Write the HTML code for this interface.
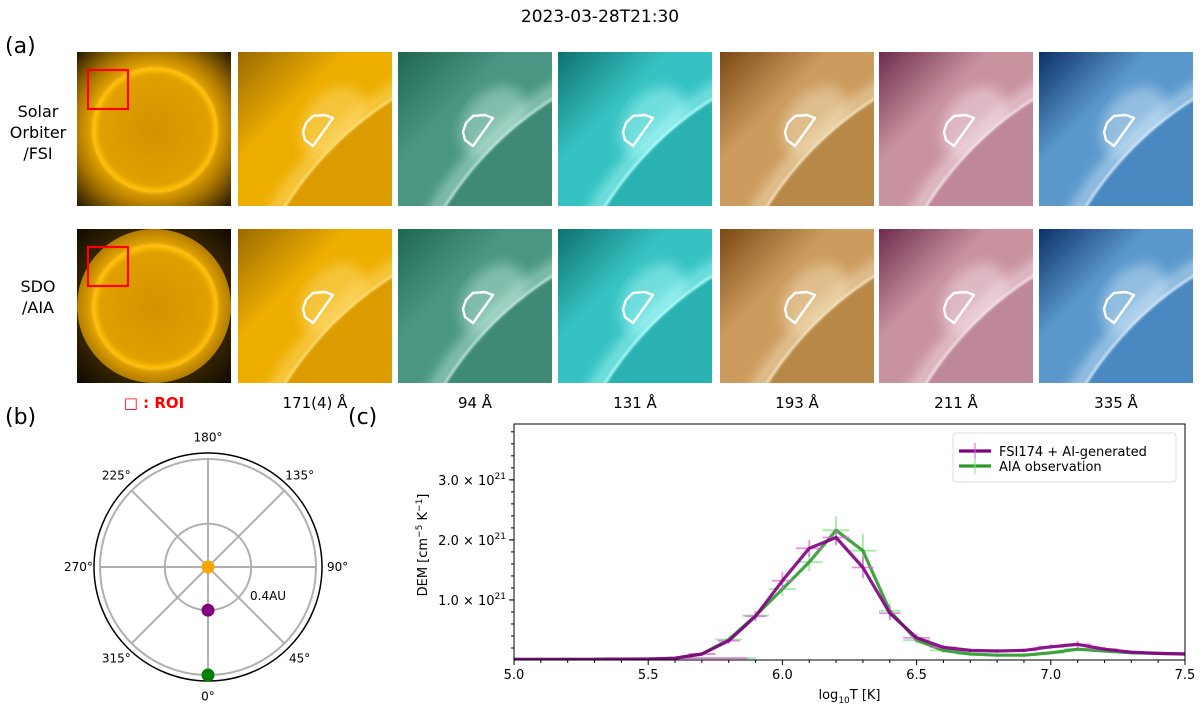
<!DOCTYPE html>
<html><head><meta charset="utf-8">
<style>
html,body{margin:0;padding:0;background:#fff;width:1200px;height:707px;overflow:hidden;font-family:"Liberation Sans","DejaVu Sans",sans-serif;}
svg{display:block;}
svg text{font-family:"DejaVu Sans","Liberation Sans",sans-serif;}
</style></head>
<body>
<svg id="fig" width="1200" height="707" viewBox="0 0 1200 707" xmlns="http://www.w3.org/2000/svg">
<defs>
<filter id="blur3"><feGaussianBlur stdDeviation="3"/></filter>
<filter id="blur6"><feGaussianBlur stdDeviation="6"/></filter>
<filter id="blur1"><feGaussianBlur stdDeviation="1.2"/></filter>
<radialGradient id="sunDisk" cx="0.5" cy="0.5" r="0.5">
<stop offset="0" stop-color="#d49200"/><stop offset="0.9" stop-color="#e0a000"/><stop offset="1" stop-color="#ffc000"/>
</radialGradient>
<radialGradient id="sunCorona" cx="0.5" cy="0.5" r="0.72">
<stop offset="0.55" stop-color="#e8a800"/><stop offset="0.72" stop-color="#a87400"/><stop offset="1" stop-color="#1a1000"/>
</radialGradient>
</defs>
<text x="600" y="22" text-anchor="middle" font-size="17" fill="#000">2023-03-28T21:30</text>
<text x="5" y="53" font-size="22" fill="#000">(a)</text>
<text x="5" y="424" font-size="22" fill="#000">(b)</text>
<text x="348" y="424" font-size="22" fill="#000">(c)</text>
<g font-size="16" text-anchor="middle" fill="#000">
<text x="38" y="117">Solar</text><text x="38" y="138">Orbiter</text><text x="38" y="159">/FSI</text></g>
<g font-size="16" text-anchor="middle" fill="#000">
<text x="38" y="292">SDO</text><text x="38" y="313">/AIA</text></g>
<g id="images"></g>
<g id="collabels" font-size="15" text-anchor="middle" fill="#000"></g>
<g id="polar"></g>
<g id="dem"></g>
</svg>
<script>
var NS="http://www.w3.org/2000/svg";
function mk(tag,attrs,parent){var e=document.createElementNS(NS,tag);for(var k in attrs)e.setAttribute(k,attrs[k]);parent.appendChild(e);return e;}

// ---------- solar image panels ----------
var colX=[77,238,398,558,720,879,1039];
var rowY=[52,229];
var PW=154;
var channels=["171","94","131","193","211","335"];
var cDark=["#9a6a00","#1f6652","#0f7070","#7a4812","#6e2c4c","#0c3068"];
var cBright=["#ffe080","#c4ece0","#b8ffff","#f6e6c4","#f8e8ee","#d8ecfa"];
var cMid=["#eeae00","#4a9682","#36c2c2","#cc9c5e","#c9929f","#5a98cc"];
var cDisk=["#dc9c00","#3f8a76","#2ab2b2","#b88848","#be8898","#4a88c2"];
var imgs=document.getElementById("images");
var defs=document.querySelector("defs");
for(var r=0;r<2;r++){
  var x0=colX[0],y0=rowY[r];
  var g=mk("g",{},imgs);
  
  
  var cp=mk("clipPath",{id:"cpf"+r},defs);mk("rect",{x:x0,y:y0,width:PW,height:PW},cp);
  var gg=mk("g",{"clip-path":"url(#cpf"+r+")"},g);
  mk("rect",{x:x0,y:y0,width:PW,height:PW,fill:"url(#sunCorona)"},gg);
  if(r==1){mk("path",{d:"M"+x0+","+y0+"h"+PW+"v"+PW+"h-"+PW+"z M"+(x0+77)+","+(y0+0)+" a77,77 0 1,0 0.1,0z","fill":"#0a0600","fill-rule":"evenodd",opacity:"0.75"},gg);}
  mk("circle",{cx:x0+78,cy:y0+78,r:63,fill:"#ffc020",filter:"url(#blur1)"},gg);
  mk("circle",{cx:x0+78,cy:y0+78,r:61,fill:"url(#sunDisk)"},gg);
  var roi=mk("rect",{x:x0+11,y:y0+18,width:40,height:39,fill:"none",stroke:"#ff0000","stroke-width":"2.2"},g);
  
  
  for(var c=0;c<6;c++){
    var X=colX[c+1],Y=rowY[r];
    var pg=mk("g",{},imgs);
    
    
    var id="cp"+r+"_"+c;
    var cp2=mk("clipPath",{id:id},defs);mk("rect",{x:X,y:Y,width:PW,height:PW},cp2);
    var lg=mk("linearGradient",{id:"lg"+id,x1:"0",y1:"0",x2:"0.8",y2:"0.8"},defs);
    mk("stop",{offset:"0","stop-color":cDark[c]},lg);
    mk("stop",{offset:"0.45","stop-color":cMid[c]},lg);
    mk("stop",{offset:"1","stop-color":cMid[c]},lg);
    var ig=mk("g",{"clip-path":"url(#"+id+")"},pg);
    mk("rect",{x:X,y:Y,width:PW,height:PW,fill:"url(#lg"+id+")"},ig);
    mk("circle",{cx:X+335,cy:Y+335,r:346,fill:"none",stroke:cBright[c],"stroke-width":"12",opacity:"0.6",filter:"url(#blur6)"},ig);
    mk("ellipse",{cx:X+95,cy:Y+70,rx:28,ry:40,fill:cBright[c],opacity:"0.45",filter:"url(#blur6)",transform:"rotate(40 "+(X+95)+" "+(Y+70)+")"},ig);
    mk("circle",{cx:X+335,cy:Y+335,r:339,fill:cDisk[c]},ig);
    mk("circle",{cx:X+335,cy:Y+335,r:340,fill:"none",stroke:cBright[c],"stroke-width":"2.5",opacity:"0.95",filter:"url(#blur1)"},ig);
    var rp=[[75,64],[87,63],[95,66],[75,94],[67,88],[65,80],[68,71]];
    var d="M"+rp.map(function(p){return (X+p[0])+","+(Y+p[1]);}).join(" L")+"Z";
    var poly=mk("path",{d:d,fill:"none",stroke:"#fff","stroke-width":"2.4","stroke-linejoin":"round"},pg);
    
    
  }
}
var cl=document.getElementById("collabels");
var labs=["171(4) Å","94 Å","131 Å","193 Å","211 Å","335 Å"];
var roiLab=mk("text",{x:colX[0]+77,y:408,fill:"#ff0000","font-weight":"bold"},cl);
roiLab.textContent="□ : ROI";


for(var i=0;i<6;i++){var t=mk("text",{x:colX[i+1]+77,y:408},cl);t.textContent=labs[i];

}

// ---------- polar panel ----------
var polarNames=["sun","solar-orbiter","earth-sdo"];
var polarR=[0,0.4,1.0];
var polarTheta=[0,0,0];
var polarColors=["#ffa500","#800080","#008000"];
var pg=document.getElementById("polar");
var PCX=208,PCY=567,PR=108;
function pxy(rv,deg){var a=deg*Math.PI/180;return [PCX+rv*PR*Math.sin(a),PCY+rv*PR*Math.cos(a)];}
var pgrid=mk("g",{stroke:"#b0b0b0","stroke-width":"2",fill:"none"},pg);


[0.4,1.0].forEach(function(rv){mk("circle",{cx:PCX,cy:PCY,r:rv*PR},pgrid);});
for(var a=0;a<360;a+=45){var p=pxy(1.0,a);mk("line",{x1:PCX,y1:PCY,x2:p[0],y2:p[1]},pgrid);}
var ob=mk("circle",{cx:PCX,cy:PCY,r:114,fill:"none",stroke:"#000","stroke-width":"1.5"},pg);


for(var a=0;a<360;a+=45){var p=pxy(1.2,a);var t=mk("text",{x:p[0],y:p[1]+4,"font-size":"12","text-anchor":"middle",fill:"#000"},pg);t.textContent=a+"°";

}
var rl=mk("text",{x:250,y:600,"font-size":"12",fill:"#000"},pg);rl.textContent="0.4AU";


for(var i=0;i<3;i++){var p=pxy(polarR[i],polarTheta[i]);var c=mk("circle",{cx:p[0],cy:p[1],r:6.5,fill:polarColors[i]},pg);

}

// ---------- DEM chart ----------
var logT=[5.0,5.1,5.2,5.3,5.4,5.5,5.6,5.7,5.8,5.9,6.0,6.1,6.2,6.3,6.4,6.5,6.6,6.7,6.8,6.9,7.0,7.1,7.2,7.3,7.4,7.5];
var demFSI=[0.01,0.01,0.01,0.01,0.01,0.015,0.03,0.1,0.32,0.73,1.32,1.86,2.04,1.54,0.78,0.37,0.21,0.16,0.15,0.16,0.22,0.26,0.18,0.13,0.11,0.1];
var errFSI=[0,0,0,0,0,0,0.02,0.03,0.05,0.08,0.15,0.14,0.13,0.18,0.12,0.07,0.04,0.03,0.03,0.03,0.04,0.06,0.04,0.03,0.02,0.02];
var xerrFSI=[0,0,0,0,0,0,0.27,0.05,0.04,0.04,0.04,0.05,0.05,0.04,0.04,0.05,0.05,0.05,0.05,0.05,0.05,0.05,0.05,0.05,0.05,0.05];
var demAIA=[0.01,0.01,0.01,0.01,0.01,0.015,0.03,0.1,0.34,0.74,1.18,1.63,2.16,1.82,0.82,0.33,0.16,0.1,0.08,0.08,0.12,0.18,0.15,0.12,0.11,0.1];
var errAIA=[0,0,0,0,0,0,0.02,0.03,0.05,0.08,0.12,0.15,0.23,0.28,0.13,0.06,0.04,0.03,0.03,0.03,0.03,0.03,0.03,0.03,0.02,0.02];
var xerrAIA=[0,0,0,0,0,0,0.3,0.05,0.05,0.05,0.05,0.05,0.05,0.05,0.04,0.05,0.05,0.05,0.05,0.05,0.05,0.05,0.05,0.05,0.05,0.05];
var xTicks=[5.0,5.5,6.0,6.5,7.0,7.5];
var yTicks=[1,2,3];
var L=514,R=1185,T=424,B=660,XMIN=5.0,XMAX=7.5,YMIN=0.0,YMAX=3.93;
function sx(v){return L+(v-XMIN)/(XMAX-XMIN)*(R-L);}
function sy(v){return B-(v-YMIN)/(YMAX-YMIN)*(B-T);}
var dg=document.getElementById("dem");
var clipD=mk("clipPath",{id:"cpdem"},defs);mk("rect",{x:L,y:T,width:R-L,height:B-T},clipD);
function series(vals,err,xerr,col,ecol,name){
  var g=mk("g",{"clip-path":"url(#cpdem)"},dg);
  
  
  var eg=mk("g",{stroke:ecol,"stroke-width":"1.8",opacity:"0.7"},g);
  for(var i=0;i<logT.length;i++){
    if(err[i]>0){var l=mk("line",{x1:sx(logT[i]),x2:sx(logT[i]),y1:sy(vals[i]-err[i]),y2:sy(vals[i]+err[i])},eg);
      
      }
    if(xerr[i]>0){var l2=mk("line",{x1:sx(logT[i]-xerr[i]),x2:sx(logT[i]+xerr[i]),y1:sy(vals[i]),y2:sy(vals[i])},eg);
      
      }
  }
  var d=logT.map(function(x,i){return (i?"L":"M")+sx(x).toFixed(1)+","+sy(vals[i]).toFixed(1);}).join("");
  var p=mk("path",{d:d,fill:"none",stroke:col,"stroke-width":"3.2","stroke-linejoin":"round",opacity:"0.9"},g);
  
  
}
series(demAIA,errAIA,xerrAIA,"#2e9a2e","#80e080","aia-series");
series(demFSI,errFSI,xerrFSI,"#800080","#e060e0","fsi-series");
var frame=mk("rect",{x:L,y:T,width:R-L,height:B-T,fill:"none",stroke:"#000","stroke-width":"1"},dg);


var xt=mk("g",{stroke:"#000"},dg);


for(var v=5.0;v<=7.501;v+=0.1){var big=Math.abs(v*2-Math.round(v*2))<1e-6;mk("line",{x1:sx(v),x2:sx(v),y1:B,y2:B+(big?5:3)},xt);}
xTicks.forEach(function(v){var t=mk("text",{x:sx(v),y:B+19,"font-size":"13","text-anchor":"middle",fill:"#000",stroke:"none"},dg);t.textContent=v.toFixed(1);

});
yTicks.forEach(function(v){mk("line",{x1:L-5,x2:L,y1:sy(v),y2:sy(v),stroke:"#000"},dg);
var t=mk("text",{x:L-8,y:sy(v)+5,"font-size":"13","text-anchor":"end",fill:"#000"},dg);


var s1=mk("tspan",{},t);s1.textContent=v.toFixed(1)+" × 10";
var s2=mk("tspan",{dy:"-6","font-size":"9"},t);s2.textContent="21";});
for(var v=0.2;v<3.9;v+=0.2){mk("line",{x1:L-3,x2:L,y1:sy(v),y2:sy(v),stroke:"#000"},dg);}
var xl=mk("text",{x:(L+R)/2,y:B+39,"font-size":"13","text-anchor":"middle",fill:"#000"},dg);


var a1=mk("tspan",{},xl);a1.textContent="log";
var a2=mk("tspan",{dy:"4","font-size":"9"},xl);a2.textContent="10";
var a3=mk("tspan",{dy:"-4"},xl);a3.textContent="T [K]";
var yl=mk("text",{x:0,y:0,"font-size":"13","text-anchor":"middle",fill:"#000",transform:"translate(427,545) rotate(-90)"},dg);


var b1=mk("tspan",{},yl);b1.textContent="DEM [cm";
var b2=mk("tspan",{dy:"-5","font-size":"9"},yl);b2.textContent="−5";
var b3=mk("tspan",{dy:"5"},yl);b3.textContent=" K";
var b4=mk("tspan",{dy:"-5","font-size":"9"},yl);b4.textContent="−1";
var b5=mk("tspan",{dy:"5"},yl);b5.textContent="]";
var lg=mk("g",{},dg);


mk("rect",{x:953,y:433,width:223,height:49,rx:3,fill:"#fff",stroke:"#ddd"},lg);
var ents=[["FSI174 + AI-generated","#800080","#e060e0",451],["AIA observation","#2e9a2e","#80e080",466]];
ents.forEach(function(e){var g=mk("g",{},lg);


mk("line",{x1:959,x2:991,y1:e[3],y2:e[3],stroke:e[1],"stroke-width":"3.2"},g);
mk("line",{x1:975,x2:975,y1:e[3]-8,y2:e[3]+8,stroke:e[2],"stroke-width":"1.5",opacity:"0.7"},g);
var t=mk("text",{x:999,y:e[3]+5,"font-size":"13",fill:"#000"},g);t.textContent=e[0];});
</script>
</body></html>
